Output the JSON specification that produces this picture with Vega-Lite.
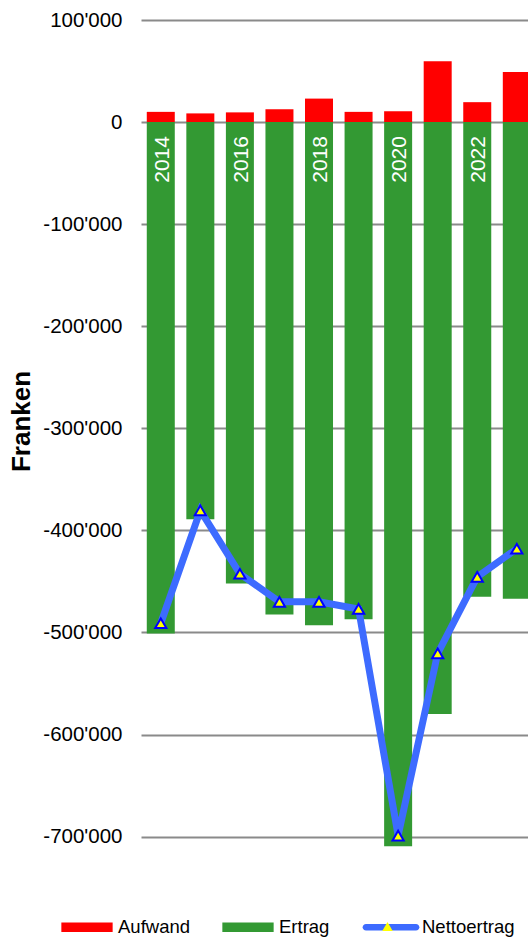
{
  "$schema": "https://vega.github.io/schema/vega-lite/v6.json",
  "width": 387,
  "height": 837,
  "autosize": {"type": "none"},
  "padding": {"left": 141, "top": 20, "right": 0, "bottom": 82},
  "background": "white",
  "config": {
    "view": {"stroke": null},
    "font": "Liberation Sans"
  },
  "data": {
    "values": [
      {"Jahr": 2014, "Aufwand": 10000, "Ertrag": -501000, "Nettoertrag": -491000},
      {"Jahr": 2015, "Aufwand": 8500, "Ertrag": -389000, "Nettoertrag": -380500},
      {"Jahr": 2016, "Aufwand": 9500, "Ertrag": -452000, "Nettoertrag": -442500},
      {"Jahr": 2017, "Aufwand": 12500, "Ertrag": -482500, "Nettoertrag": -470000},
      {"Jahr": 2018, "Aufwand": 23000, "Ertrag": -493000, "Nettoertrag": -470000},
      {"Jahr": 2019, "Aufwand": 10000, "Ertrag": -487000, "Nettoertrag": -477000},
      {"Jahr": 2020, "Aufwand": 10500, "Ertrag": -709500, "Nettoertrag": -699000},
      {"Jahr": 2021, "Aufwand": 59500, "Ertrag": -580000, "Nettoertrag": -520500},
      {"Jahr": 2022, "Aufwand": 19500, "Ertrag": -465000, "Nettoertrag": -445500},
      {"Jahr": 2023, "Aufwand": 49000, "Ertrag": -467000, "Nettoertrag": -418000}
    ]
  },
  "encoding": {
    "x": {
      "field": "Jahr",
      "type": "quantitative",
      "scale": {"domain": [2013.5, 2023.283], "nice": false, "zero": false, "padding": 0},
      "axis": null
    }
  },
  "layer": [
    {
      "transform": [{"fold": ["Aufwand", "Ertrag"], "as": ["Typ", "Wert"]}],
      "mark": {"type": "bar", "width": 28, "clip": true},
      "encoding": {
        "y": {
          "field": "Wert",
          "type": "quantitative",
          "stack": null,
          "scale": {"domain": [-720000, 100000], "nice": false},
          "axis": {
            "values": [100000, 0, -100000, -200000, -300000, -400000, -500000, -600000, -700000],
            "labelExpr": "replace(replace(format(datum.value, ','), ',', \"'\"), '\u2212', '-')",
            "grid": true,
            "gridColor": "#8a8a8a",
            "gridWidth": 2,
            "domain": false,
            "ticks": false,
            "labelPadding": 19,
            "labelFont": "Liberation Sans",
            "labelFontSize": 20.5,
            "labelColor": "#000000",
            "title": "Franken",
            "titleFont": "Liberation Sans",
            "titleFontSize": 26,
            "titleFontWeight": "bold",
            "titleColor": "#000000",
            "titleAngle": 270,
            "titleX": -112,
            "titleY": 401,
            "titleAlign": "center",
            "titleBaseline": "alphabetic"
          }
        },
        "color": {
          "field": "Typ",
          "type": "nominal",
          "scale": {"domain": ["Aufwand", "Ertrag", "Nettoertrag"], "range": ["#ff0000", "#339933", "#3d6bff"]},
          "legend": {
            "title": null,
            "orient": "none",
            "legendX": -80,
            "legendY": 881,
            "direction": "horizontal",
            "padding": 0,
            "labelFont": "Liberation Sans",
            "labelFontSize": 18.5,
            "labelColor": "#000000",
            "labelOffset": 5,
            "columnPadding": 32,
            "symbolSize": 2632,
            "symbolStrokeWidth": 0,
            "encode": {
              "symbols": {
                "update": {
                  "shape": {"signal": "datum.label === 'Nettoertrag' ? 'M-0.975,-0.13H0.975A0.13,0.13 0 0 1 0.975,0.13H-0.975A0.13,0.13 0 0 1 -0.975,-0.13Z' : 'M-1,-0.19H1V0.19H-1Z'"},
                  "strokeWidth": {"value": 0}
                }
              }
            }
          }
        }
      }
    },
    {
      "mark": {"type": "line", "color": "#3d6bff", "strokeWidth": 7},
      "encoding": {
        "y": {"field": "Nettoertrag", "type": "quantitative"}
      }
    },
    {
      "mark": {"type": "point", "filled": true, "fill": "#ffff00", "stroke": "#0000ff", "strokeWidth": 2, "size": 125, "opacity": 1},
      "encoding": {
        "y": {"field": "Nettoertrag", "type": "quantitative"},
        "shape": {
          "datum": "Nettoertrag",
          "type": "nominal",
          "scale": {"domain": ["Nettoertrag"], "range": ["triangle-up"]},
          "legend": {
            "title": null,
            "orient": "none",
            "legendX": 240,
            "legendY": 900,
            "padding": 0,
            "labelExpr": "''",
            "symbolSize": 110,
            "symbolFillColor": "#ffff00",
            "symbolStrokeColor": "#0000ff",
            "symbolStrokeWidth": 2,
            "symbolOpacity": 1
          }
        }
      }
    },
    {
      "transform": [{"filter": "datum.Jahr % 2 === 0"}],
      "mark": {"type": "text", "angle": 270, "align": "right", "baseline": "alphabetic", "dx": -14, "dy": 8, "color": "#ffffff", "font": "Liberation Sans", "fontSize": 21, "clip": true},
      "encoding": {
        "y": {"datum": 0, "type": "quantitative"},
        "text": {"field": "Jahr", "type": "nominal"}
      }
    }
  ]
}
